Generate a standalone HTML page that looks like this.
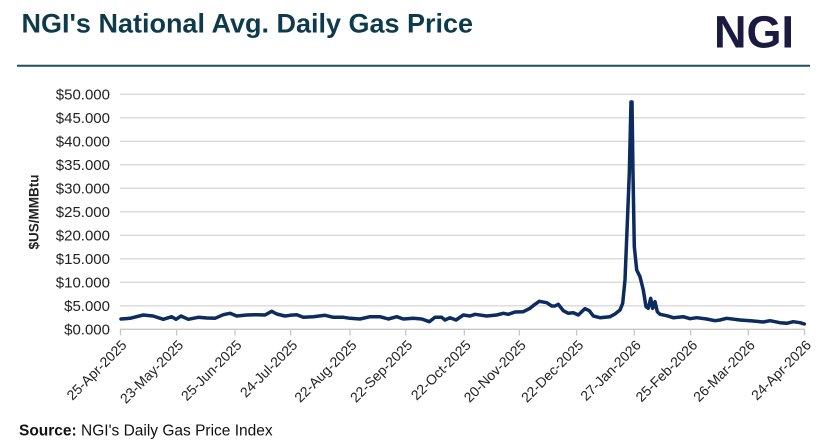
<!DOCTYPE html>
<html>
<head>
<meta charset="utf-8">
<style>
html,body{margin:0;padding:0;background:#fff;}
svg{display:block;}
</style>
</head>
<body>
<svg width="828" height="447" viewBox="0 0 828 447" xmlns="http://www.w3.org/2000/svg" font-family="'Liberation Sans', Arial, sans-serif">
  <rect width="828" height="447" fill="#fff"/>
  <!-- Title -->
  <text x="21.5" y="32.3" font-size="27" font-weight="bold" fill="#0e3b4c">NGI's National Avg. Daily Gas Price</text>
  <!-- Logo -->
  <text x="714" y="47.5" font-size="45" font-weight="bold" fill="#1b1a3f" textLength="80" lengthAdjust="spacingAndGlyphs">NGI</text>
  <!-- Rule -->
  <line x1="17" y1="65.7" x2="810" y2="65.7" stroke="#1f4f58" stroke-width="2"/>

  <!-- Gridlines -->
  <g stroke="#d9d9d9" stroke-width="1.3">
    <line x1="120" y1="94.3" x2="805" y2="94.3"/>
    <line x1="120" y1="117.8" x2="805" y2="117.8"/>
    <line x1="120" y1="141.3" x2="805" y2="141.3"/>
    <line x1="120" y1="164.8" x2="805" y2="164.8"/>
    <line x1="120" y1="188.3" x2="805" y2="188.3"/>
    <line x1="120" y1="211.8" x2="805" y2="211.8"/>
    <line x1="120" y1="235.3" x2="805" y2="235.3"/>
    <line x1="120" y1="258.8" x2="805" y2="258.8"/>
    <line x1="120" y1="282.3" x2="805" y2="282.3"/>
    <line x1="120" y1="305.8" x2="805" y2="305.8"/>
  </g>
  <!-- X axis + ticks -->
  <g stroke="#c8c8c8" stroke-width="1.3">
    <line x1="120" y1="329.3" x2="805" y2="329.3"/>
    <line x1="120.5" y1="329.3" x2="120.5" y2="335.5"/>
    <line x1="176.7" y1="329.3" x2="176.7" y2="335.5"/>
    <line x1="235" y1="329.3" x2="235" y2="335.5"/>
    <line x1="290.7" y1="329.3" x2="290.7" y2="335.5"/>
    <line x1="350" y1="329.3" x2="350" y2="335.5"/>
    <line x1="405.7" y1="329.3" x2="405.7" y2="335.5"/>
    <line x1="464.3" y1="329.3" x2="464.3" y2="335.5"/>
    <line x1="519.3" y1="329.3" x2="519.3" y2="335.5"/>
    <line x1="576.7" y1="329.3" x2="576.7" y2="335.5"/>
    <line x1="634.3" y1="329.3" x2="634.3" y2="335.5"/>
    <line x1="690.7" y1="329.3" x2="690.7" y2="335.5"/>
    <line x1="748.3" y1="329.3" x2="748.3" y2="335.5"/>
    <line x1="804.5" y1="329.3" x2="804.5" y2="335.5"/>
  </g>

  <!-- Y labels -->
  <g font-size="15" fill="#222" text-anchor="end">
    <text x="110" y="99.3">$50.000</text>
    <text x="110" y="122.8">$45.000</text>
    <text x="110" y="146.3">$40.000</text>
    <text x="110" y="169.8">$35.000</text>
    <text x="110" y="193.3">$30.000</text>
    <text x="110" y="216.8">$25.000</text>
    <text x="110" y="240.3">$20.000</text>
    <text x="110" y="263.8">$15.000</text>
    <text x="110" y="287.3">$10.000</text>
    <text x="110" y="310.8">$5.000</text>
    <text x="110" y="334.3">$0.000</text>
  </g>
  <!-- Y axis title -->
  <text transform="translate(38.3,212) rotate(-90)" text-anchor="middle" font-size="13.5" font-weight="bold" fill="#222">$US/MMBtu</text>

  <!-- X labels -->
  <g font-size="14" fill="#222" text-anchor="end">
    <text transform="translate(127.5,346) rotate(-45)">25-Apr-2025</text>
    <text transform="translate(184.2,346) rotate(-45)">23-May-2025</text>
    <text transform="translate(242.5,346) rotate(-45)">25-Jun-2025</text>
    <text transform="translate(298.2,346) rotate(-45)">24-Jul-2025</text>
    <text transform="translate(357.5,346) rotate(-45)">22-Aug-2025</text>
    <text transform="translate(413.2,346) rotate(-45)">22-Sep-2025</text>
    <text transform="translate(471.8,346) rotate(-45)">22-Oct-2025</text>
    <text transform="translate(526.8,346) rotate(-45)">20-Nov-2025</text>
    <text transform="translate(584.2,346) rotate(-45)">22-Dec-2025</text>
    <text transform="translate(641.8,346) rotate(-45)">27-Jan-2026</text>
    <text transform="translate(698.2,346) rotate(-45)">25-Feb-2026</text>
    <text transform="translate(755.8,346) rotate(-45)">26-Mar-2026</text>
    <text transform="translate(812,346) rotate(-45)">24-Apr-2026</text>
  </g>

  <!-- Series -->
  <polyline fill="none" stroke="#0c2b5e" stroke-width="3.5" stroke-linejoin="round" stroke-linecap="round"
    points="121,319 130,318.3 143.3,315 153,316 163.3,319.3 171.7,316.7 176,319.3 181,316 188.3,319.3 198.3,317.3 206.7,318 215,318.3 223.3,314.7 230,313.3 236.7,316 246.7,315 256.7,314.7 265,315 271.7,311.3 276.7,314 285,316 290,315.3 296.7,314.7 303.3,317.3 313.3,316.7 325,315.3 333.3,317.3 343.3,317.3 350,318.3 360,319 370,316.7 380,316.7 388.3,319 396.7,316.7 403.3,319 413.3,318.3 421.7,319 429.3,321.7 435,317.3 441.7,317.3 445,320 450,317.7 456,320 463.3,315 470,316 475,314.3 486.7,316 496.7,315 503.3,313.3 508.3,314.3 515,312 523.3,311.7 530,308.3 535,304.3 539.3,301.3 546.7,302.7 551.7,306 555,306 558.3,304.3 563.3,310.7 568.3,313.3 573.3,312.7 578.3,315 581.7,311.7 585,308.7 589.3,310.7 593.3,316 600,317.7 610,316.7 615,314 620,310 622.7,303.3 625,280 627.3,223.3 629.3,173.3 631,102 632,102 633,173.3 634.3,246.7 636.7,270 640,276.7 643.3,290 646,306.7 648.3,308.3 650.7,298.3 652.7,308.3 655,301.7 657.3,311.7 660,314.3 666.7,315.7 673.3,317.7 683.3,316.7 690,318.7 696.7,317.7 706.7,319 715,320.7 720,320 726.7,318.3 740,320 753.3,321 763.3,322 770,320.7 780,322.7 786.7,323.3 793.3,321.7 800,322.7 804.3,324"/>

  <!-- Source -->
  <text x="19" y="435.7" font-size="15.5" fill="#111"><tspan font-weight="bold">Source:</tspan> NGI's Daily Gas Price Index</text>
</svg>
</body>
</html>
